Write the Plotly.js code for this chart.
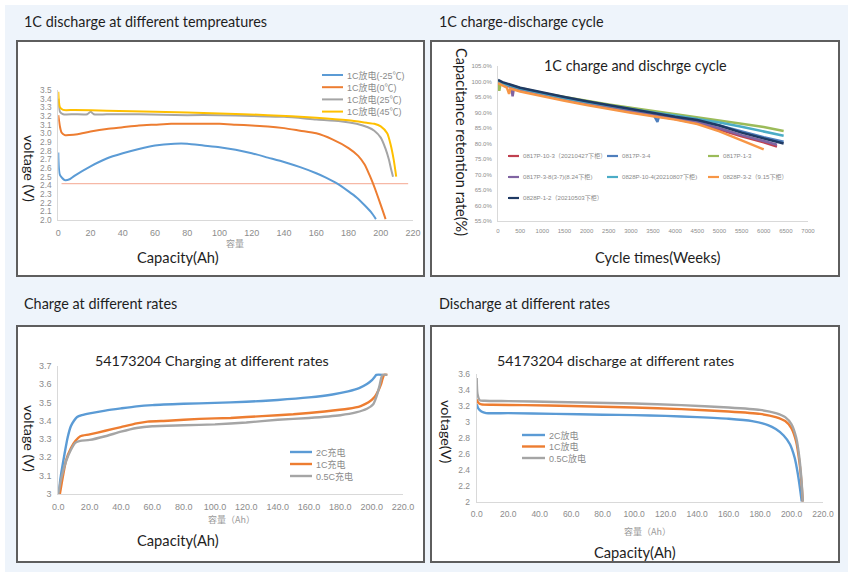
<!DOCTYPE html>
<html><head><meta charset="utf-8">
<script src="https://cdn.plot.ly/plotly-3.0.1.min.js"></script>
<style>html,body{margin:0;padding:0;background:#fff;}#chart{width:855px;height:576px;}</style>
</head><body><div id="chart"></div>
<script>
// ---------- Panel 1: 1C discharge at different temperatures ----------
const tempNames = ['1C放电(-25℃)', '1C放电(0℃)', '1C放电(25℃)', '1C放电(45℃)'];
const capM25 = [0, 1, 4, 7, 10, 20, 30, 40, 50, 60, 72, 80, 90, 100, 110, 120, 130, 140, 150, 160, 166, 172, 180, 185, 190, 194, 197];
const voltM25 = [2.78, 2.52, 2.46, 2.47, 2.51, 2.62, 2.71, 2.77, 2.82, 2.86, 2.88, 2.88, 2.86, 2.84, 2.81, 2.77, 2.72, 2.67, 2.61, 2.54, 2.49, 2.43, 2.33, 2.26, 2.17, 2.09, 2.01];
const cap0 = [0, 1, 2, 4, 7, 12, 20, 30, 40, 50, 60, 70, 80, 90, 100, 110, 120, 130, 140, 150, 160, 170, 180, 186, 190, 193, 195, 198, 201, 203];
const volt0 = [3.21, 3.08, 3.01, 2.98, 2.98, 2.99, 3.02, 3.05, 3.07, 3.09, 3.10, 3.11, 3.11, 3.11, 3.11, 3.10, 3.09, 3.08, 3.06, 3.03, 3.00, 2.93, 2.83, 2.74, 2.64, 2.52, 2.43, 2.28, 2.12, 2.01];
const cap25 = [0, 1, 3, 10, 18, 20, 22, 30, 50, 80, 100, 120, 140, 160, 175, 185, 192, 196, 200, 203, 205, 206.5, 207.6];
const volt25 = [3.40, 3.25, 3.22, 3.22, 3.22, 3.25, 3.22, 3.22, 3.22, 3.21, 3.21, 3.20, 3.19, 3.16, 3.14, 3.11, 3.07, 3.03, 2.95, 2.82, 2.70, 2.58, 2.50];
const cap45 = [0, 1, 3, 10, 30, 60, 100, 130, 160, 180, 192, 196, 200, 204, 206, 208, 209.6];
const volt45 = [3.48, 3.30, 3.27, 3.27, 3.26, 3.25, 3.23, 3.21, 3.18, 3.15, 3.12, 3.11, 3.08, 3.00, 2.88, 2.70, 2.50];
const cutoffCap = [2, 217];
const cutoffVolt = [2.42, 2.42];

// ---------- Panel 2: 1C charge and discharge cycle ----------
const cycleNames = ['0817P-10-3（20210427下柜）', '0817P-3-4', '0817P-1-3', '0817P-3-8(3-7)(8.24下柜)', '0828P-10-4(20210807下柜)', '0828P-3-2（9.15下柜）', '0828P-1-2（20210503下柜）'];
const cycRedX = [0, 100, 500, 1000, 1500, 2000, 2500, 3000, 3500, 4000, 4500, 5000, 5500, 6000, 6300];
const cycRedY = [100.0, 99.3, 97.2, 95.6, 94.1, 92.7, 91.4, 90.2, 89.0, 87.9, 86.5, 84.5, 82.3, 80.4, 79.0];
const cycBlueX = [0, 100, 500, 1000, 1500, 2000, 2500, 3000, 3500, 3600, 3650, 3700, 4000, 4500, 5000, 5500, 6000, 6450];
const cycBlueY = [100.0, 99.4, 97.6, 96.0, 94.6, 93.3, 92.0, 90.8, 89.6, 87.0, 89.4, 89.3, 88.6, 87.5, 85.8, 83.8, 82.0, 80.6];
const cycGreenX = [0, 30, 60, 100, 500, 1000, 1500, 2000, 2500, 3000, 3500, 4000, 4500, 5000, 5500, 6000, 6450];
const cycGreenY = [100.0, 97.0, 99.6, 99.5, 97.9, 96.3, 95.0, 93.7, 92.6, 91.5, 90.5, 89.6, 88.6, 87.5, 86.4, 85.3, 84.0];
const cycPurpleX = [0, 100, 300, 330, 360, 500, 1000, 1500, 2000, 2500, 3000, 3500, 4000, 4500, 5000, 5500, 6000, 6300];
const cycPurpleY = [100.0, 99.3, 98.2, 95.2, 98.0, 97.3, 95.7, 94.3, 92.9, 91.7, 90.4, 89.2, 88.1, 86.9, 84.9, 82.7, 80.8, 79.6];
const cycCyanX = [0, 100, 500, 1000, 1500, 2000, 2500, 3000, 3500, 4000, 4500, 5000, 5500, 6000, 6450];
const cycCyanY = [100.0, 99.4, 97.7, 96.1, 94.7, 93.4, 92.2, 91.1, 90.0, 89.0, 88.0, 86.8, 85.4, 84.0, 82.5];
const cycOrangeX = [0, 100, 200, 250, 280, 500, 1000, 1500, 2000, 2500, 3000, 3500, 4000, 4500, 5000, 5500, 6000];
const cycOrangeY = [99.5, 98.8, 98.0, 96.0, 97.7, 96.8, 95.2, 93.8, 92.4, 91.1, 89.9, 88.8, 87.7, 86.3, 83.9, 81.0, 78.1];
const cycNavyX = [0, 100, 500, 1000, 1500, 2000, 2500, 3000, 3500, 4000, 4500, 5000, 5500, 6000, 6450];
const cycNavyY = [100.5, 99.8, 98.0, 96.4, 95.0, 93.6, 92.3, 91.0, 89.7, 88.6, 87.6, 85.8, 83.5, 81.6, 80.0];

// ---------- Panel 3: charging at different rates ----------
const chargeNames = ['2C充电', '1C充电', '0.5C充电'];
const chg2CX = [0, 2, 4, 6, 8, 10, 12, 15, 20, 30, 40, 50, 60, 80, 100, 120, 140, 160, 175, 185, 192, 197, 200, 202, 203, 207];
const chg2CY = [3.0, 3.12, 3.22, 3.31, 3.37, 3.40, 3.42, 3.43, 3.44, 3.455, 3.467, 3.478, 3.485, 3.492, 3.497, 3.503, 3.513, 3.527, 3.543, 3.56, 3.578, 3.60, 3.62, 3.64, 3.65, 3.65];
const chg1CX = [1, 3, 5, 8, 11, 14, 20, 30, 40, 50, 57, 70, 90, 110, 130, 150, 170, 185, 193, 198, 202, 204, 206, 207, 208, 210];
const chg1CY = [3.0, 3.1, 3.185, 3.25, 3.29, 3.315, 3.325, 3.345, 3.365, 3.385, 3.395, 3.40, 3.41, 3.415, 3.425, 3.435, 3.45, 3.465, 3.48, 3.50, 3.53, 3.56, 3.60, 3.63, 3.65, 3.65];
const chg05CX = [0, 2, 5, 8, 11, 14, 20, 30, 40, 50, 60, 80, 100, 120, 140, 160, 180, 190, 197, 201, 203, 205, 206, 207, 210];
const chg05CY = [3.0, 3.09, 3.18, 3.24, 3.28, 3.29, 3.295, 3.315, 3.34, 3.36, 3.37, 3.375, 3.38, 3.39, 3.405, 3.415, 3.43, 3.445, 3.465, 3.49, 3.53, 3.59, 3.63, 3.65, 3.65];

// ---------- Panel 4: discharge at different rates ----------
const dischargeNames = ['2C放电', '1C放电', '0.5C放电'];
const dis2CX = [0, 1, 3, 6, 20, 50, 80, 100, 120, 140, 160, 175, 185, 190, 195, 199, 202, 204, 205.5, 206.5];
const dis2CY = [3.22, 3.17, 3.13, 3.11, 3.11, 3.10, 3.09, 3.085, 3.075, 3.06, 3.04, 3.01, 2.96, 2.91, 2.83, 2.72, 2.55, 2.35, 2.15, 2.0];
const dis1CX = [0, 1, 3, 10, 30, 60, 100, 130, 160, 180, 190, 196, 200, 203, 205, 206.3, 207.2];
const dis1CY = [3.28, 3.24, 3.22, 3.215, 3.21, 3.20, 3.18, 3.16, 3.13, 3.10, 3.06, 3.01, 2.92, 2.75, 2.5, 2.25, 2.0];
const dis05CX = [0, 0.5, 2, 5, 20, 50, 100, 130, 160, 180, 190, 196, 200, 203, 205, 206.3, 207.2];
const dis05CY = [3.55, 3.35, 3.27, 3.265, 3.26, 3.25, 3.23, 3.21, 3.18, 3.15, 3.11, 3.06, 2.97, 2.80, 2.55, 2.28, 2.0];

// ---------- styles ----------
const W = 855, H = 576;
const PX = x => x / W;
const PY = y => 1 - y / H;
const excel4 = ['#5b9bd5', '#ed7d31', '#a5a5a5', '#ffc000'];
const cycleColors = ['#c0404f', '#4f7fbd', '#9bbb59', '#8064a2', '#4bacc6', '#f79646', '#1f3a64'];
const sansCJK = 'Liberation Sans, Noto Sans CJK SC, sans-serif';
const latin = 'Lato, Carlito, sans-serif';
const tickGray = '#8c8c8c';

const traces = [];
function addLine(x, y, name, color, width, axis, shape) {
  traces.push({
    type: 'scatter', mode: 'lines', x: x, y: y, name: name,
    xaxis: 'x' + axis, yaxis: 'y' + axis, showlegend: false, hoverinfo: 'skip',
    line: {color: color, width: width, shape: shape || 'spline', smoothing: 0.6}
  });
}
// panel 1
addLine(cutoffCap, cutoffVolt, 'cutoff', '#f6b8a6', 1.2, '', 'linear');
[[capM25, voltM25], [cap0, volt0], [cap25, volt25], [cap45, volt45]].forEach((s, i) =>
  addLine(s[0], s[1], tempNames[i], excel4[i], 2, ''));
// panel 2
[[cycRedX, cycRedY], [cycBlueX, cycBlueY], [cycGreenX, cycGreenY], [cycPurpleX, cycPurpleY],
 [cycCyanX, cycCyanY], [cycOrangeX, cycOrangeY], [cycNavyX, cycNavyY]].forEach((s, i) =>
  addLine(s[0], s[1], cycleNames[i], cycleColors[i], 2.5, '2', 'linear'));
// panel 3
[[chg2CX, chg2CY], [chg1CX, chg1CY], [chg05CX, chg05CY]].forEach((s, i) =>
  addLine(s[0], s[1], chargeNames[i], excel4[i], 2.4, '3'));
// panel 4
[[dis2CX, dis2CY], [dis1CX, dis1CY], [dis05CX, dis05CY]].forEach((s, i) =>
  addLine(s[0], s[1], dischargeNames[i], excel4[i], 2.4, '4'));

function axis(d0, d1, range, dtick, fmt, size, anchor, extra) {
  return Object.assign({
    domain: [d0, d1], range: range, dtick: dtick, tick0: range[0], tickformat: fmt,
    showgrid: false, zeroline: false, showline: true, linecolor: '#d9d9d9', linewidth: 1,
    ticks: '', ticklabelstandoff: 4, anchor: anchor, fixedrange: true,
    tickfont: {family: sansCJK, size: size, color: tickGray}
  }, extra || {});
}

const shapes = [
  {type: 'rect', xref: 'paper', yref: 'paper', x0: PX(5), x1: PX(848), y0: PY(572), y1: PY(5),
   fillcolor: '#eef4fb', line: {width: 0}, layer: 'below'}
];
[[17, 41, 424, 276], [431, 41, 839, 276], [17, 326, 424, 562], [431, 326, 839, 562]].forEach(b =>
  shapes.push({type: 'rect', xref: 'paper', yref: 'paper', x0: PX(b[0]), x1: PX(b[2]), y0: PY(b[3]), y1: PY(b[1]),
    fillcolor: '#ffffff', line: {color: '#5e5e5e', width: 2}, layer: 'below'}));

const annotations = [];
function txt(text, x, y, size, opts) {
  annotations.push(Object.assign({text: text, x: PX(x), y: PY(y), xref: 'paper', yref: 'paper',
    showarrow: false, xanchor: 'center', yanchor: 'middle',
    font: {family: latin, size: size, color: '#1e1e1e'}}, opts || {}));
}
// section titles
txt('1C discharge at different tempreatures', 22, 21, 14.4, {xanchor: 'left'});
txt('1C charge-discharge cycle', 437, 21, 14.4, {xanchor: 'left'});
txt('Charge at different rates', 22, 303, 14.4, {xanchor: 'left'});
txt('Discharge at different rates', 437, 303, 14.4, {xanchor: 'left'});
// chart titles
txt('1C charge and dischrge cycle', 635, 65, 14.4);
txt('54173204 Charging at different rates', 212, 360, 14.3);
txt('54173204 discharge at different rates', 615, 360, 14.3);
// axis labels
const cjkGray = {family: 'Noto Sans CJK SC, sans-serif', size: 9, color: '#9a9a9a'};
txt('Capacity(Ah)', 178, 257, 14.7);
txt('容量', 235, 243, 9, {font: cjkGray});
txt('voltage (V)', 30, 168, 14.3, {textangle: 90});
txt('Cycle times(Weeks)', 657, 257, 14.7);
txt('Capacitance retention rate(%)', 462, 142, 14.5, {textangle: 90});
txt('Capacity(Ah)', 178, 540, 14.7);
txt('容量（Ah）', 232, 519, 9, {font: cjkGray});
txt('voltage (V)', 30, 438, 14.3, {textangle: 90});
txt('Capacity(Ah)', 635, 552, 14.7);
txt('容量（Ah）', 647, 531, 9, {font: cjkGray});
txt('voltage(V)', 447, 432, 14.3, {textangle: 90});

// manual compact legends (Excel style)
function legendEntry(name, color, x, y, len, width, fsize) {
  shapes.push({type: 'line', xref: 'paper', yref: 'paper', x0: PX(x), x1: PX(x + len), y0: PY(y), y1: PY(y),
    line: {color: color, width: width}});
  annotations.push({text: name, x: PX(x + len + 2), y: PY(y), xref: 'paper', yref: 'paper', showarrow: false,
    xanchor: 'left', yanchor: 'middle', font: {family: sansCJK, size: fsize, color: '#8a8a8a'}});
}
tempNames.forEach((n, i) => legendEntry(n, excel4[i], 322, 75 + i * 12.2, 21, 2, 9));
const colX = [508, 607, 708];
cycleNames.forEach((n, i) => legendEntry(n, cycleColors[i], colX[i % 3], 156 + Math.floor(i / 3) * 21, 11, 2.2, 6.1));
chargeNames.forEach((n, i) => legendEntry(n, excel4[i], 290, 452 + i * 12, 22, 2.4, 9));
dischargeNames.forEach((n, i) => legendEntry(n, excel4[i], 522, 435 + i * 11.5, 23, 2.4, 9));

const layout = {
  width: W, height: H, margin: {l: 0, r: 0, t: 0, b: 0},
  paper_bgcolor: '#ffffff', plot_bgcolor: 'rgba(0,0,0,0)', showlegend: false,
  xaxis: axis(PX(58.3), PX(413), [0, 220], 20, 'd', 9, 'y'),
  yaxis: axis(PY(220), PY(90), [2.0, 3.5], 0.1, '.1f', 8.3, 'x'),
  xaxis2: axis(PX(498), PX(808), [0, 7000], 500, 'd', 6, 'y2'),
  yaxis2: axis(PY(221), PY(66), [55, 105], 5, '.1f', 6, 'x2', {ticksuffix: '%'}),
  xaxis3: axis(PX(58.3), PX(403), [0, 220], 20, '.1f', 9, 'y3'),
  yaxis3: axis(PY(494), PY(365.7), [3.0, 3.7], 0.1, '', 9, 'x3'),
  xaxis4: axis(PX(476.7), PX(823), [0, 220], 20, '.1f', 8.5, 'y4'),
  yaxis4: axis(PY(501.7), PY(374), [2, 3.6], 0.2, '', 8.5, 'x4'),
  shapes: shapes, annotations: annotations
};
Plotly.newPlot('chart', traces, layout, {staticPlot: true, displayModeBar: false});
</script></body></html>
